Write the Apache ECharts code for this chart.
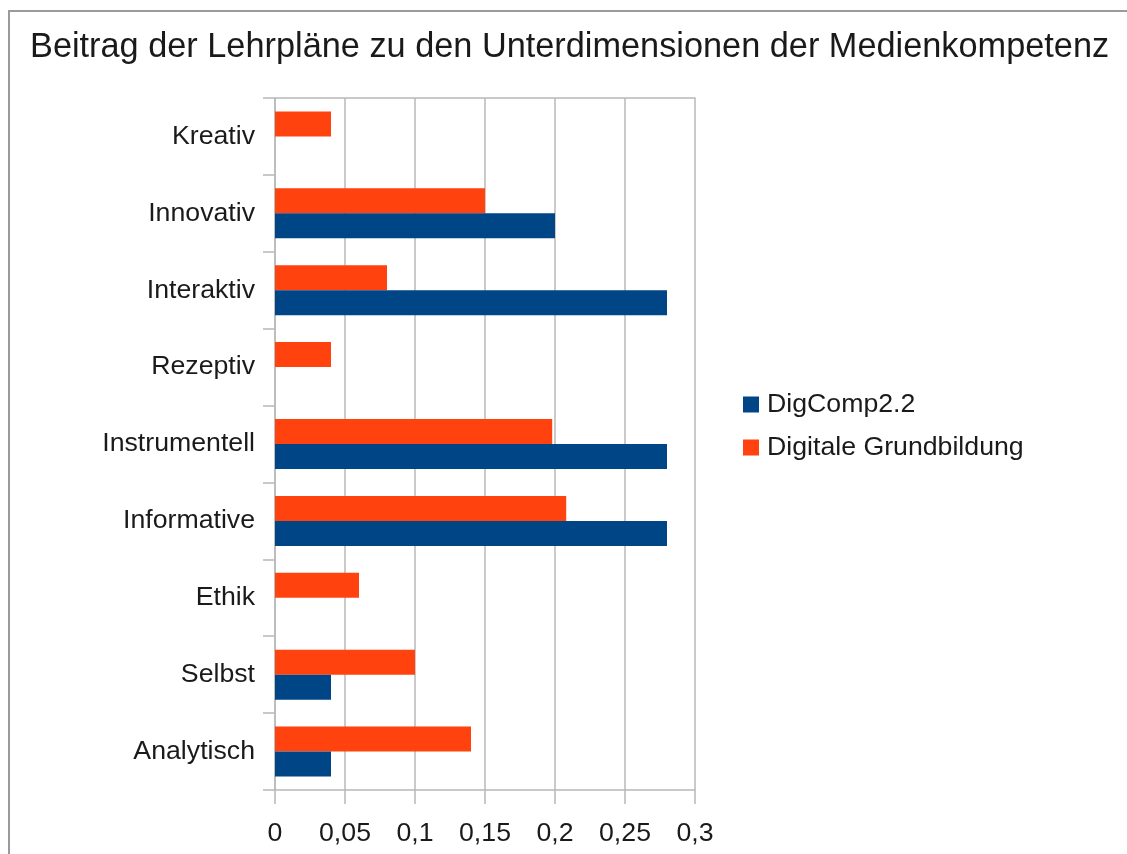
<!DOCTYPE html>
<html lang="de">
<head>
  <meta charset="UTF-8">
  <title>Beitrag der Lehrpläne</title>
  <script src="https://cdn.jsdelivr.net/npm/echarts@6/dist/echarts.min.js"></script>
  <style>
    body { margin: 0; overflow: hidden; background: #fff; }
    #frame { position: absolute; left: 8px; top: 10px; width: 1200px; height: 900px;
             border-left: 2px solid #9a9a9a; border-top: 2px solid #9a9a9a; pointer-events: none; }
  </style>
</head>
<body>
<div id="main" style="position:absolute;left:0;top:0;width:1127px;height:854px;"></div>
<div id="frame"></div>
<script type="text/javascript">
  // Kategorien von unten nach oben
  var categories = ['Analytisch', 'Selbst', 'Ethik', 'Informative', 'Instrumentell',
                    'Rezeptiv', 'Interaktiv', 'Innovativ', 'Kreativ'];
  var digComp = [0.04, 0.04, 0, 0.28, 0.28, 0, 0.28, 0.2, 0];
  var digitaleGrundbildung = [0.14, 0.1, 0.06, 0.208, 0.198, 0.04, 0.08, 0.15, 0.04];
  var seriesNames = ['DigComp2.2', 'Digitale Grundbildung'];

  var myChart = echarts.init(document.getElementById('main'));
  var font = 'Liberation Sans';
  var gridColor = '#b8b8b8';

  var option = {
    backgroundColor: '#fff',
    animation: false,
    title: {
      text: 'Beitrag der Lehrpläne zu den Unterdimensionen der Medienkompetenz',
      left: 25,
      top: 26,
      textStyle: { fontFamily: font, fontSize: 34.3, fontWeight: 'normal', color: '#1a1a1a' }
    },
    legend: {
      orient: 'vertical',
      left: 738,
      top: 386,
      itemWidth: 16,
      itemHeight: 16,
      itemGap: 16,
      icon: 'rect',
      data: seriesNames,
      textStyle: { fontFamily: font, fontSize: 26.7, color: '#1a1a1a', padding: [0, 0, 0, 3] }
    },
    grid: { left: 275, right: 432, top: 98, bottom: 64 },
    xAxis: [{
      type: 'value',
      min: 0,
      max: 0.3,
      interval: 0.05,
      axisLine: { show: true, lineStyle: { color: gridColor, width: 1.5 } },
      axisTick: { show: true, length: 14, lineStyle: { color: gridColor, width: 1.5 } },
      axisLabel: {
        margin: 30,
        fontFamily: font, fontSize: 26.7, color: '#1a1a1a',
        formatter: function (v) { return String(+v.toFixed(2)).replace('.', ','); }
      },
      splitLine: { show: true, lineStyle: { color: gridColor, width: 1.5 } }
    }, {
      type: 'value',
      position: 'top',
      min: 0,
      max: 0.3,
      axisLine: { show: true, lineStyle: { color: gridColor, width: 1.5 } },
      axisTick: { show: false },
      axisLabel: { show: false },
      splitLine: { show: false }
    }],
    yAxis: {
      type: 'category',
      data: categories,
      axisLine: { show: true, lineStyle: { color: gridColor, width: 1.5 } },
      axisTick: { show: true, length: 12, lineStyle: { color: gridColor, width: 1.5 } },
      axisLabel: { margin: 20, padding: [4, 0, 0, 0], fontFamily: font, fontSize: 26.7, color: '#1a1a1a' }
    },
    // orange series first so that it sits above the blue bar in each row
    series: [
      {
        name: seriesNames[1],
        type: 'bar',
        data: digitaleGrundbildung,
        itemStyle: { color: '#ff420e' },
        barGap: '0%',
        barCategoryGap: '35%'
      },
      {
        name: seriesNames[0],
        type: 'bar',
        data: digComp,
        itemStyle: { color: '#004586' },
        barGap: '0%',
        barCategoryGap: '35%'
      }
    ]
  };
  myChart.setOption(option);
</script>
</body>
</html>
